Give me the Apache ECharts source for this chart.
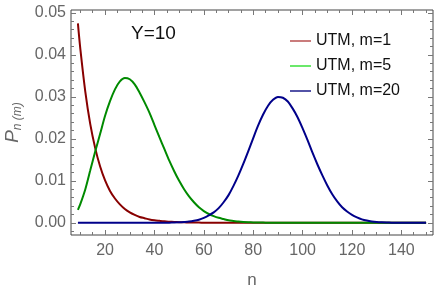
<!DOCTYPE html>
<html>
<head>
<meta charset="utf-8">
<script src="https://cdn.jsdelivr.net/npm/echarts@6/dist/echarts.min.js"></script>
<style>html,body{margin:0;padding:0;background:#fff}#c{width:436px;height:288px}</style>
</head>
<body>
<div id="c"></div>
<script>
const nValues = [9,10,12,14,16,18,20,22,24,26,28,30,32,34,36,38,40,42,44,46,48,50,52,54,56,58,60,62,64,66,68,70,72,74,76,78,80,82,84,86,88,90,92,94,96,98,100,102,104,106,108,110,112,114,116,118,120,122,124,126,128,130,132,134,136,138,140,142,144,146,148,150];
const m1 = [0.0475,0.0413,0.0312,0.0235,0.0178,0.0134,0.0101,0.0076,0.0058,0.0044,0.0033,0.0025,0.0019,0.0014,0.0011,0.0008,0.0006,0.00047,0.00035,0.00027,0.0002,0.00015,0.00011,0.00008,0.00006,0.00005,0.00004,0.00003,0.00002,0.00002,0.00001,0.00001,0,0,0,0,0,0,0,0,0,0,0,0,0,0,0,0,0,0,0,0,0,0,0,0,0,0,0,0,0,0,0,0,0,0,0,0,0,0,0,0];
const m5 = [0.0031,0.0045,0.0080,0.0125,0.0170,0.0212,0.0255,0.0290,0.0318,0.0337,0.0345,0.0342,0.0330,0.0310,0.0287,0.0262,0.0233,0.0204,0.0176,0.0148,0.0123,0.0100,0.0080,0.0063,0.0049,0.0037,0.0028,0.0021,0.0016,0.0012,0.0009,0.0006,0.00045,0.0003,0.0002,0.00014,0.0001,0.00007,0.00005,0.00003,0.00002,0.00001,0,0,0,0,0,0,0,0,0,0,0,0,0,0,0,0,0,0,0,0,0,0,0,0,0,0,0,0,0,0];
const m20 = [0,0,0,0,0,0,0,0,0,0,0,0,0,0,0,0,0.00001,0.00001,0.00002,0.00004,0.00007,0.00012,0.0002,0.0003,0.00048,0.00075,0.0012,0.0018,0.0025,0.0035,0.0049,0.0066,0.0088,0.0113,0.0141,0.0171,0.0202,0.0232,0.0258,0.0279,0.0293,0.0300,0.0298,0.0289,0.0272,0.0251,0.0225,0.0197,0.0167,0.0139,0.0113,0.0089,0.0068,0.0051,0.0037,0.0027,0.0019,0.0013,0.00083,0.00053,0.00033,0.0002,0.00012,0.00007,0.00004,0.00002,0.00001,0,0,0,0,0];
const seriesNames = ['UTM, m=1','UTM, m=5','UTM, m=20'];
const xTickLabels = [20,40,60,80,100,120,140];
const xMinor = [10,15,25,30,35,45,50,55,65,70,75,85,90,95,105,110,115,125,130,135,145,150];
const yTickLabels = [0,0.01,0.02,0.03,0.04,0.05];
const yMinor = [-0.002,0.002,0.004,0.006,0.008,0.012,0.014,0.016,0.018,0.022,0.024,0.026,0.028,0.032,0.034,0.036,0.038,0.042,0.044,0.046,0.048];

const lineColors = ['#880000','#008a00','#00008a'];
const legendColors = ['#b85050','#3ae03a','#1a1a8a'];
const xMin = 6.2, xMax = 152.8, yMin = -0.0029, yMax = 0.0507;
const font = 'Liberation Sans, Arial, sans-serif';
const tickCol = '#777';

function pairs(arr){ return nValues.map((n,i)=>[n,arr[i]]); }

function xAx(pos, major, labels){
  return {type:'value', position:pos, min:xMin, max:xMax,
    axisLine:{show:false, onZero:false}, splitLine:{show:false},
    axisTick:{show:true, inside:true, length: major?5:3, customValues: major?xTickLabels:xMinor, lineStyle:{color:tickCol}},
    axisLabel:{show:labels, customValues:xTickLabels, color:'#666', fontSize:16, fontFamily:font, margin:8},
    name: labels?'n':'', nameLocation:'middle', nameGap:37,
    nameTextStyle:{color:'#666', fontSize:17, fontFamily:font}};
}
function yAx(pos, major, labels){
  return {type:'value', position:pos, min:yMin, max:yMax,
    axisLine:{show:false, onZero:false}, splitLine:{show:false},
    axisTick:{show:true, inside:true, length: major?5:3, customValues: major?yTickLabels:yMinor, lineStyle:{color:tickCol}},
    axisLabel:{show:labels, customValues:yTickLabels, color:'#666', fontSize:16, fontFamily:font, margin:5,
      formatter:v=>v.toFixed(2)},
    name: labels?'{p|P}{s|n (m)}':'', nameLocation:'middle', nameGap:47, nameRotate:90,
    nameTextStyle:{color:'#666', fontFamily:font,
      rich:{p:{fontSize:19, fontStyle:'italic', color:'#666', fontFamily:font},
            s:{fontSize:12, fontStyle:'italic', color:'#666', fontFamily:font, verticalAlign:'bottom', padding:[10,0,0,0]}}}};
}

const chart = echarts.init(document.getElementById('c'));
chart.setOption({
  animation:false,
  backgroundColor:'#fff',
  grid:{left:71, right:3, top:10, bottom:53, show:true, borderColor:'#444', borderWidth:1, outerBoundsMode:'none', containLabel:false},
  xAxis:[xAx('bottom',true,true), xAx('bottom',false,false), xAx('top',true,false), xAx('top',false,false)],
  yAxis:[yAx('left',true,true), yAx('left',false,false), yAx('right',true,false), yAx('right',false,false)],
  legend:{orient:'vertical', left:285, top:28, itemWidth:21, itemHeight:14, itemGap:9,
    textStyle:{fontSize:16, color:'#111', fontFamily:font},
    data: seriesNames.map((n,i)=>({name:n, icon:'path://M0,0H21V1.5H0Z', itemStyle:{color:legendColors[i]}}))},
  graphic:[{type:'text', left:131, top:24, style:{text:'Y=10', fontSize:19, fill:'#111', fontFamily:font}}],
  series:[m1,m5,m20].map((arr,i)=>({
    type:'line', name:seriesNames[i], data:pairs(arr), xAxisIndex:0, yAxisIndex:0,
    symbol:'none', smooth:0.3, color:lineColors[i],
    lineStyle:{color:lineColors[i], width:2}
  }))
});
</script>
</body>
</html>
